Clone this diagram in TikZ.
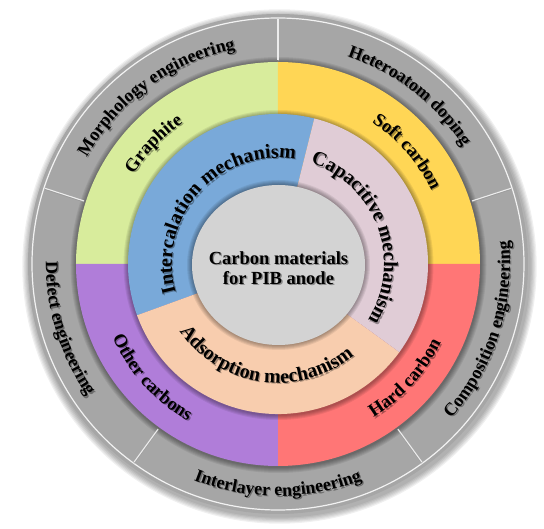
\documentclass[tikz,border=0pt]{standalone}
\usepackage{fontspec}
\setmainfont{Liberation Serif}
\usetikzlibrary{decorations.text}
\definecolor{ringgray}{HTML}{A6A6A6}
\definecolor{cgreen}{HTML}{D8EC9C}
\definecolor{cyellow}{HTML}{FFD655}
\definecolor{cred}{HTML}{FF7676}
\definecolor{cpurple}{HTML}{B07DD9}
\definecolor{cblue}{HTML}{79A9D9}
\definecolor{cpink}{HTML}{E0CCD6}
\definecolor{cpeach}{HTML}{F8CDAE}
\definecolor{cgray}{HTML}{D3D3D3}
\newcommand\fouter{\fontsize{18}{20}\selectfont\bfseries}
\newcommand\fcol{\fontsize{18.5}{20}\selectfont\bfseries}
\newcommand\fmech{\fontsize{20}{22}\selectfont\bfseries}
\newcommand\fcenter{\fontsize{18.5}{20}\selectfont\bfseries}
% radius, start angle, end angle, font, text
\newcommand\ringlabel[5]{%
  \begin{scope}[shift={(1.3pt,-1.3pt)}, fill opacity=0.35]
    \path[decorate, decoration={text along path, text align=center, text={|#4|#5}}]
      (#2:#1) arc[start angle=#2, end angle=#3, radius=#1];
  \end{scope}
  \path[decorate, decoration={text along path, text align=center, text={|#4|#5}}]
    (#2:#1) arc[start angle=#2, end angle=#3, radius=#1];
}
\tikzset{
  softshadow/.style={black, fill opacity=0.06},
  divider/.style={white!85!gray, line width=1.1pt}
}
\begin{document}
\begin{tikzpicture}
\useasboundingbox (-278pt,-265pt) rectangle (266pt,264pt);
% outer ring shadow and ring
\foreach \k in {1,...,6} \fill[softshadow] (1.5pt,-2.5pt) circle ({250+1.2*\k pt});
\fill[ringgray] (0,0) circle (250pt);
\draw[white!90!gray, line width=1.2pt] (0,0) circle (246pt);
% shadow of colored ring on gray ring
\foreach \k in {1,...,6} \fill[black, fill opacity=0.07] (0.5pt,-1pt) circle ({202+\k pt});
\foreach \a in {18,90,162,234,306} {
  \draw[black!40, line width=0.8pt] ([yshift=-1pt]\a:204pt) -- ([yshift=-1pt]\a:245pt);
  \draw[divider] (\a:204pt) -- (\a:245pt);
}
% colored ring
\fill[cgreen]  (0,0) -- (90:202pt) arc[start angle=90, end angle=180, radius=202pt] -- cycle;
\fill[cyellow] (0,0) -- (0:202pt) arc[start angle=0, end angle=90, radius=202pt] -- cycle;
\fill[cred]    (0,0) -- (-90:202pt) arc[start angle=-90, end angle=0, radius=202pt] -- cycle;
\fill[cpurple] (0,0) -- (180:202pt) arc[start angle=180, end angle=270, radius=202pt] -- cycle;
% mechanism ring
\foreach \k in {1,...,5} \fill[black, fill opacity=0.07] (0.5pt,-1pt) circle ({150+\k pt});
\fill[cblue]  (0,0) -- (76:150pt) arc[start angle=76, end angle=200, radius=150pt] -- cycle;
\fill[cpeach] (0,0) -- (200:150pt) arc[start angle=200, end angle=324, radius=150pt] -- cycle;
\fill[cpink]  (0,0) -- (-36:150pt) arc[start angle=-36, end angle=76, radius=150pt] -- cycle;
% center
\foreach \k in {1,...,5} \fill[black, fill opacity=0.07] (0.5pt,-1pt) ellipse ({86.5+\k pt} and {80+\k pt});
\fill[cgray] (0.5pt,-1pt) ellipse (86.5pt and 80pt);
% labels
\ringlabel{219pt}{162}{90}{\fouter}{Morphology engineering}
\ringlabel{219pt}{88}{16}{\fouter}{Heteroatom doping}
\ringlabel{232pt}{-54}{18}{\fouter}{Composition engineering}
\ringlabel{232pt}{234}{306}{\fouter}{Interlayer engineering}
\ringlabel{232pt}{161}{233}{\fouter}{Defect engineering}
\ringlabel{170pt}{181}{91}{\fcol}{Graphite}
\ringlabel{170pt}{86}{-4}{\fcol}{Soft carbon}
\ringlabel{181pt}{-87}{3}{\fcol}{Hard carbon}
\ringlabel{181pt}{177}{267}{\fcol}{Other carbons}
\ringlabel{106pt}{200}{76}{\fmech}{Intercalation mechanism}
\ringlabel{106pt}{76}{-36}{\fmech}{Capacitive mechanism}
\ringlabel{119pt}{200}{324}{\fmech}{Adsorption mechanism}
\node[align=center, font=\fcenter, black, opacity=0.35] (centershadow) at (1.8pt,-5.3pt) {Carbon materials\\for PIB anode};
\node[align=center, font=\fcenter] (centertext) at (0.5pt,-4pt) {Carbon materials\\for PIB anode};
\end{tikzpicture}
\end{document}
